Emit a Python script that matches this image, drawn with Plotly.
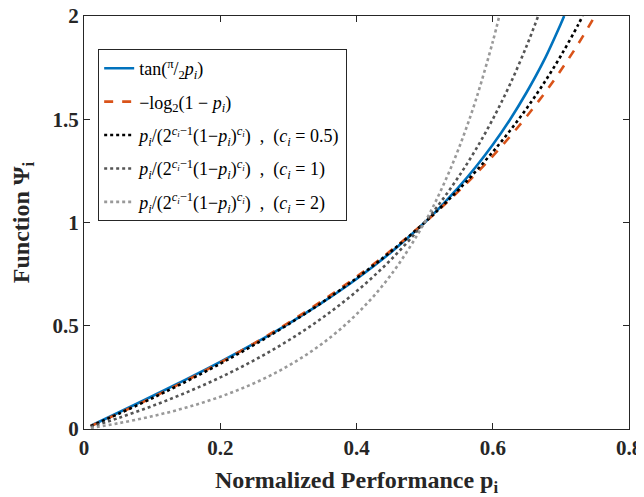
import plotly.graph_objects as go

p_tan = [0.01, 0.05, 0.1, 0.15, 0.2, 0.25, 0.3, 0.35, 0.4, 0.45, 0.5, 0.525, 0.55, 0.575, 0.6, 0.625, 0.65, 0.675, 0.7, 0.7048]
y_tan = [0.0157, 0.0787, 0.1584, 0.2401, 0.3249, 0.4142, 0.5095, 0.6128, 0.7265, 0.8541, 1.0, 1.0818, 1.1709, 1.2685, 1.3764, 1.4966, 1.6319, 1.7837, 1.9626, 2.0]

p_log = [0.01, 0.05, 0.1, 0.15, 0.2, 0.25, 0.3, 0.35, 0.4, 0.45, 0.5, 0.525, 0.55, 0.575, 0.6, 0.625, 0.65, 0.675, 0.7, 0.725, 0.75]
y_log = [0.0145, 0.0740, 0.1520, 0.2345, 0.3219, 0.4150, 0.5146, 0.6215, 0.7370, 0.8625, 1.0, 1.0740, 1.1520, 1.2345, 1.3219, 1.4150, 1.5146, 1.6215, 1.7370, 1.8625, 2.0]

p_c05 = [0.01, 0.05, 0.1, 0.15, 0.2, 0.25, 0.3, 0.35, 0.4, 0.45, 0.5, 0.525, 0.55, 0.575, 0.6, 0.625, 0.65, 0.675, 0.7, 0.725, 0.732]
y_c05 = [0.0142, 0.0725, 0.1491, 0.2301, 0.3162, 0.4082, 0.5071, 0.6139, 0.7303, 0.8581, 1.0, 1.0773, 1.1595, 1.2474, 1.3416, 1.4434, 1.5538, 1.6745, 1.8074, 1.9552, 2.0]

p_c1 = [0.01, 0.05, 0.1, 0.15, 0.2, 0.25, 0.3, 0.35, 0.4, 0.45, 0.5, 0.525, 0.55, 0.575, 0.6, 0.625, 0.65, 0.6667]
y_c1 = [0.0101, 0.0526, 0.1111, 0.1765, 0.25, 0.3333, 0.4286, 0.5385, 0.6667, 0.8182, 1.0, 1.1053, 1.2222, 1.3529, 1.5, 1.6667, 1.8571, 2.0]

p_c2 = [0.01, 0.05, 0.1, 0.15, 0.2, 0.25, 0.3, 0.35, 0.4, 0.45, 0.5, 0.525, 0.55, 0.575, 0.6, 0.6096]
y_c2 = [0.0051, 0.0277, 0.0617, 0.1038, 0.1563, 0.2222, 0.3061, 0.4142, 0.5556, 0.7438, 1.0, 1.1634, 1.3580, 1.5917, 1.875, 2.0]

x_ticks = [0, 0.2, 0.4, 0.6, 0.8]
x_ticklabels = ["0", "0.2", "0.4", "0.6", "0.8"]
y_ticks = [0, 0.5, 1, 1.5, 2]
y_ticklabels = ["0", "0.5", "1", "1.5", "2"]

frac = "<i>p<sub>i</sub></i>/(2<sup><i>c<sub>i</sub></i>−1</sup>(1−<i>p<sub>i</sub></i>)<sup><i>c<sub>i</sub></i></sup>)"
names = [
    "tan(<sup>π</sup>/<sub>2</sub><i>p<sub>i</sub></i>)",
    "−log<sub>2</sub>(1 − <i>p<sub>i</sub></i>)",
    frac + "  ,  (<i>c<sub>i</sub></i> = 0.5)",
    frac + "  ,  (<i>c<sub>i</sub></i> = 1)",
    frac + "  ,  (<i>c<sub>i</sub></i> = 2)",
]

series = [
    (p_tan, y_tan, "#0072BD", "solid"),
    (p_log, y_log, "#D95319", "dash"),
    (p_c05, y_c05, "#000000", "dot"),
    (p_c1, y_c1, "#555555", "dot"),
    (p_c2, y_c2, "#999999", "dot"),
]

fig = go.Figure()
for k, ((x, y, c, d), n) in enumerate(zip(series, names)):
    fig.add_trace(go.Scatter(x=x, y=y, mode="lines", name=n, legendgroup=f"g{k}",
                             line=dict(color=c, dash=d, width=2.6, shape="spline")))

axis_common = dict(showline=True, linecolor="#262626", linewidth=1, mirror="ticks",
                   ticks="inside", ticklen=6, tickcolor="#262626", showgrid=False,
                   zeroline=False, automargin=False, ticklabeloverflow="allow",
                   tickfont=dict(family="Liberation Serif", size=21, color="#262626", weight="bold"))

# page body adds an 8px offset, so the figure is sized to the remaining window
fig.update_layout(
    width=636, height=489,
    margin=dict(l=76, r=15, t=8, b=68),
    paper_bgcolor="white", plot_bgcolor="white",
    font=dict(family="Liberation Serif", color="#262626"),
    xaxis=dict(range=[0, 0.8], tickvals=x_ticks, ticktext=x_ticklabels,
               title=dict(text="Normalized Performance p<sub>i</sub>", standoff=16,
                          font=dict(family="Liberation Serif", size=24, weight="bold")),
               **axis_common),
    yaxis=dict(range=[0, 2], tickvals=y_ticks, ticktext=y_ticklabels,
               title=dict(text="Function Ψ<sub>i</sub>", standoff=22,
                          font=dict(family="Liberation Serif", size=24, weight="bold")),
               **axis_common),
    legend=dict(x=0.026, y=0.92, xanchor="left", yanchor="top",
                bgcolor="white", bordercolor="#262626", borderwidth=1,
                font=dict(family="Liberation Serif", size=18, color="black"),
                tracegroupgap=7, itemwidth=30),
    showlegend=True,
)

fig.write_html("out.html")
